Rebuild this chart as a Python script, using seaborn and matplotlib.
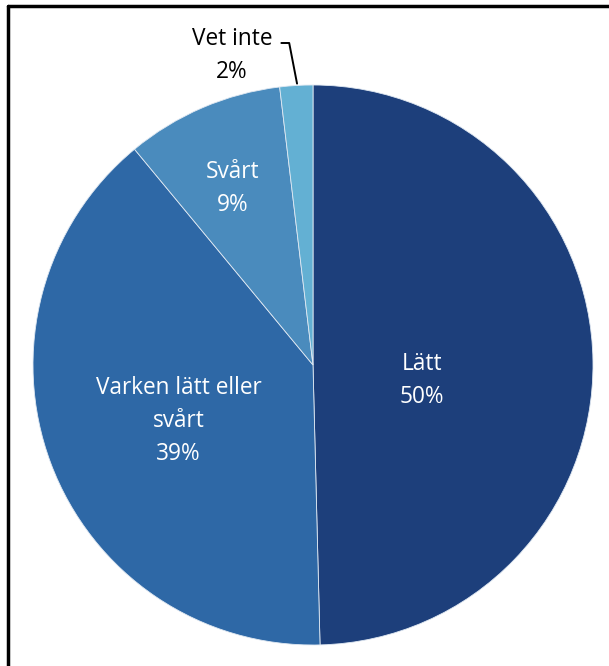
import matplotlib
matplotlib.use('Agg')
import matplotlib.pyplot as plt
import seaborn as sns

categories = ['Lätt', 'Varken lätt eller\nsvårt', 'Svårt', 'Vet inte']
shares = [49.6, 39.4, 9.1, 1.9]
percent_labels = ['50%', '39%', '9%', '2%']
colors = ['#1d3f7b', '#2e68a6', '#4a8bbd', '#63b0d3']

sns.set_theme(style='white')
plt.rcParams['font.family'] = ['Open Sans', 'DejaVu Sans']

fig = plt.figure(figsize=(6.09, 6.66), dpi=100)
# pie occupies a 560x560 px square centered at (313, 365)
ax = fig.add_axes([33 / 609, (666 - 645) / 666, 560 / 609, 560 / 666])
ax.pie(shares, colors=colors, startangle=90, counterclock=False, radius=1,
       wedgeprops={'linewidth': 0.6, 'edgecolor': '#dfe8f2'})
ax.set_xlim(-1, 1)
ax.set_ylim(-1, 1)
ax.set_aspect('equal')
ax.set_axis_off()

label_pos = [(0.39, -0.057), (-0.48, -0.2), (-0.286, 0.63), (-0.29, 1.104)]
for name, pct, (x, y), i in zip(categories, percent_labels, label_pos, range(4)):
    ax.text(x, y, f'{name}\n{pct}', ha='center', va='center', fontsize=16.3,
            color='white' if i < 3 else 'black', linespacing=1.5, clip_on=False)

# leader line for the small slice
ax.plot([-0.113, -0.085, -0.057], [1.15, 1.15, 1.005], color='black', lw=1.4, clip_on=False)

# frame on top and left like the cropped screenshot
fig.add_artist(plt.Line2D([8 / 609, 1], [1 - 6 / 666, 1 - 6 / 666], color='black', lw=2.5,
                          transform=fig.transFigure))
fig.add_artist(plt.Line2D([8 / 609, 8 / 609], [0, 1 - 6 / 666], color='black', lw=2.5,
                          transform=fig.transFigure))

fig.savefig('out.png', dpi=100)
